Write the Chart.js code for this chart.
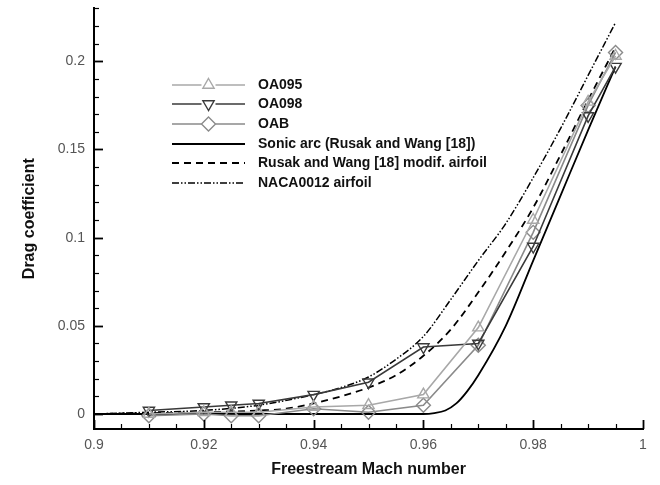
<!DOCTYPE html>
<html>
<head>
<meta charset="utf-8">
<script src="https://cdn.jsdelivr.net/npm/chart.js@4.4.1/dist/chart.umd.min.js"></script>
<style>
  html, body { margin: 0; padding: 0; background: #fff; }
  #wrap { position: relative; width: 660px; height: 485px; }
</style>
</head>
<body>
<div id="wrap"><canvas id="c" width="660" height="485"></canvas></div>
<script>
// ---- data ----
const machOA    = [0.91, 0.92, 0.925, 0.93, 0.94, 0.95, 0.96, 0.97, 0.98, 0.99, 0.995];
const cdOA095   = [0.000, 0.001, 0.001, 0.001, 0.004, 0.005, 0.011, 0.049, 0.110, 0.177, 0.203];
const cdOA098   = [0.002, 0.004, 0.005, 0.006, 0.011, 0.018, 0.038, 0.040, 0.095, 0.169, 0.197];
const cdOAB     = [-0.001, 0.000, -0.001, -0.001, 0.003, 0.001, 0.005, 0.039, 0.103, 0.175, 0.205];

const machSonic = [0.90, 0.96, 0.962, 0.964, 0.966, 0.968, 0.970, 0.975, 0.980, 0.985, 0.990, 0.995];
const cdSonic   = [0.000, 0.000, 0.0005, 0.002, 0.006, 0.013, 0.022, 0.050, 0.087, 0.124, 0.161, 0.197];

const machRusak = [0.90, 0.91, 0.92, 0.93, 0.935, 0.94, 0.945, 0.95, 0.955, 0.96, 0.965, 0.97, 0.975, 0.98, 0.985, 0.99, 0.995];
const cdRusak   = [0.000, 0.0005, 0.001, 0.002, 0.003, 0.006, 0.010, 0.015, 0.022, 0.033, 0.048, 0.069, 0.092, 0.117, 0.147, 0.178, 0.208];

const machNACA  = [0.90, 0.91, 0.92, 0.93, 0.94, 0.945, 0.95, 0.955, 0.96, 0.965, 0.97, 0.975, 0.98, 0.985, 0.99, 0.995];
const cdNACA    = [0.000, 0.001, 0.002, 0.005, 0.011, 0.015, 0.021, 0.031, 0.044, 0.065, 0.087, 0.108, 0.134, 0.162, 0.192, 0.222];

const seriesNames = ['OA095', 'OA098', 'OAB', 'Sonic arc (Rusak and Wang [18])', 'Rusak and Wang [18] modif. airfoil', 'NACA0012 airfoil'];
const xTickValues = [0.9, 0.92, 0.94, 0.96, 0.98, 1];
const yTickValues = [0, 0.05, 0.1, 0.15, 0.2];
const xAxisTitle = 'Freestream Mach number';
const yAxisTitle = 'Drag coefficient';

function pts(xs, ys) { return xs.map((x, i) => ({ x: x, y: ys[i] })); }

const FONT = "'Liberation Sans', Arial, sans-serif";

const datasets = [
  { label: seriesNames[0], data: pts(machOA, cdOA095), borderColor: '#a8a8a8', borderWidth: 1.6,
    pointStyle: 'triangle', pointRadius: 6.5, pointBorderColor: '#a8a8a8', pointBorderWidth: 1.4,
    pointBackgroundColor: 'rgba(255,255,255,0)' },
  { label: seriesNames[1], data: pts(machOA, cdOA098), borderColor: '#3a3a3a', borderWidth: 1.6,
    pointStyle: 'triangle', rotation: 180, pointRadius: 6.5, pointBorderColor: '#3a3a3a', pointBorderWidth: 1.4,
    pointBackgroundColor: 'rgba(255,255,255,0)' },
  { label: seriesNames[2], data: pts(machOA, cdOAB), borderColor: '#8a8a8a', borderWidth: 1.6,
    pointStyle: 'rectRot', pointRadius: 7, pointBorderColor: '#8a8a8a', pointBorderWidth: 1.4,
    pointBackgroundColor: 'rgba(255,255,255,0)' },
  { label: seriesNames[3], data: pts(machSonic, cdSonic), borderColor: '#000', borderWidth: 1.8,
    pointRadius: 0, cubicInterpolationMode: 'monotone' },
  { label: seriesNames[4], data: pts(machRusak, cdRusak), borderColor: '#000', borderWidth: 1.8,
    borderDash: [7, 5], pointRadius: 0, cubicInterpolationMode: 'monotone' },
  { label: seriesNames[5], data: pts(machNACA, cdNACA), borderColor: '#000', borderWidth: 1.5,
    borderDash: [7, 2, 1.5, 2, 1.5, 2], pointRadius: 0, cubicInterpolationMode: 'monotone' }
];
datasets.forEach(d => { d.showLine = true; d.fill = false; });

// inside tick marks
const insideTicks = {
  id: 'insideTicks',
  afterDraw(chart) {
    const ctx = chart.ctx, xs = chart.scales.x, ys = chart.scales.y, a = chart.chartArea;
    ctx.save();
    ctx.strokeStyle = '#000';
    const xMinorStep = 0.005, yMinorStep = 0.01;
    for (let k = 0; k <= 20; k++) {
      const v = 0.9 + k * xMinorStep;
      const major = k % 4 === 0;
      const px = Math.round(xs.getPixelForValue(v)) + 0.5;
      ctx.lineWidth = major ? 1.8 : 1.2;
      ctx.beginPath(); ctx.moveTo(px, a.bottom); ctx.lineTo(px, a.bottom - (major ? 9 : 5)); ctx.stroke();
    }
    for (let k = 0; k <= 23; k++) {
      const v = k * yMinorStep;
      const major = k % 5 === 0;
      const py = Math.round(ys.getPixelForValue(v)) + 0.5;
      ctx.lineWidth = major ? 1.8 : 1.2;
      ctx.beginPath(); ctx.moveTo(a.left, py); ctx.lineTo(a.left + (major ? 9 : 5), py); ctx.stroke();
    }
    ctx.restore();
  }
};

// legend inside the plot
const innerLegend = {
  id: 'innerLegend',
  afterDraw(chart) {
    const ctx = chart.ctx;
    const rows = [85, 104, 124, 144, 163, 183];
    const x0 = 172, x1 = 245, tx = 258;
    ctx.save();
    chart.data.datasets.forEach((d, i) => {
      const y = rows[i];
      ctx.strokeStyle = d.borderColor;
      ctx.lineWidth = d.borderWidth;
      ctx.setLineDash(d.borderDash || []);
      ctx.beginPath(); ctx.moveTo(x0, y); ctx.lineTo(x1, y); ctx.stroke();
      ctx.setLineDash([]);
      if (d.pointRadius > 0) {
        ctx.fillStyle = '#fff';
        ctx.fillRect((x0 + x1) / 2 - 7, y - 7, 14, 14);
        ctx.strokeStyle = d.pointBorderColor;
        ctx.lineWidth = d.pointBorderWidth;
        Chart.helpers.drawPoint(ctx, {
          pointStyle: d.pointStyle, rotation: d.rotation || 0, radius: d.pointRadius,
          borderWidth: d.pointBorderWidth
        }, (x0 + x1) / 2, y);
      }
      ctx.fillStyle = '#111';
      ctx.font = 'bold 14px ' + FONT;
      ctx.textBaseline = 'middle';
      ctx.textAlign = 'left';
      ctx.fillText(d.label, tx, y);
    });
    ctx.restore();
  }
};

new Chart(document.getElementById('c'), {
  type: 'scatter',
  data: { datasets: datasets },
  options: {
    responsive: false,
    animation: false,
    layout: { padding: { left: 0, right: 17, top: 8, bottom: 0 } },
    plugins: { legend: { display: false }, tooltip: { enabled: false } },
    elements: { line: { tension: 0 } },
    scales: {
      x: {
        type: 'linear', min: 0.9, max: 1,
        afterBuildTicks: s => { s.ticks = xTickValues.map(v => ({ value: v })); },
        afterFit: s => { s.height = 56; s.paddingLeft = 0; s.paddingRight = 0; },
        grid: { display: false, drawTicks: false },
        border: { display: true, color: '#000', width: 2 },
        ticks: { color: '#555', font: { family: FONT, size: 14 }, padding: 8,
                 maxRotation: 0, autoSkip: false,
                 callback: v => String(Number(v.toFixed(3))) },
        title: { display: true, text: xAxisTitle, color: '#111',
                 font: { family: FONT, size: 16, weight: 'bold' }, padding: { top: 4, bottom: 6 } }
      },
      y: {
        type: 'linear', min: -0.0085, max: 0.23,
        afterBuildTicks: s => { s.ticks = yTickValues.map(v => ({ value: v })); },
        afterFit: s => { s.width = 94; s.paddingTop = 0; s.paddingBottom = 0; },
        grid: { display: false, drawTicks: false },
        border: { display: true, color: '#000', width: 2 },
        ticks: { color: '#555', font: { family: FONT, size: 14 }, padding: 9,
                 autoSkip: false,
                 callback: v => String(Number(v.toFixed(3))) },
        title: { display: true, text: yAxisTitle, color: '#111',
                 font: { family: FONT, size: 16, weight: 'bold' }, padding: { top: 20, bottom: 0 } }
      }
    }
  },
  plugins: [insideTicks, innerLegend]
});
</script>
</body>
</html>
